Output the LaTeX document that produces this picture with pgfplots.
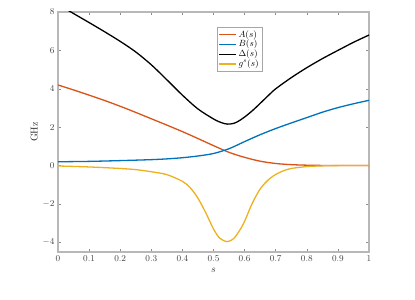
\documentclass[border=0pt]{standalone}
\usepackage{pgfplots}
\pgfplotsset{compat=1.18}
\definecolor{mA}{rgb}{0.850,0.325,0.098}
\definecolor{mB}{rgb}{0.000,0.447,0.741}
\definecolor{mG}{rgb}{0.929,0.694,0.125}
\begin{document}
\begin{tikzpicture}
\begin{axis}[
  scale only axis, width=311bp, height=240bp,
  xmin=0, xmax=1, ymin=-4.5, ymax=8,
  xtick={0,0.1,0.2,0.3,0.4,0.5,0.6,0.7,0.8,0.9,1},
  xticklabels={0,0.1,0.2,0.3,0.4,0.5,0.6,0.7,0.8,0.9,1},
  ytick={-4,-2,0,2,4,6,8},
  tick align=inside,
  major tick length=3bp,
  axis line style={black!28, line width=1.1bp},
  tick style={black!45, line width=0.5bp},
  ticklabel style={text=black!75, font=\small},
  xlabel={$s$}, ylabel={GHz},
  label style={text=black!85},
  xlabel style={yshift=0bp},
  ylabel style={yshift=-2bp},
  legend style={at={(0.511,0.9375)}, anchor=north west, draw=black!35,
    font=\small, inner sep=1.5pt, row sep=-1.5pt,
    nodes={inner sep=1.6pt}},
  legend cell align=left,
  every axis plot/.append style={line width=1.3bp},
]
\addplot[mA, smooth] coordinates {
(0,4.20) (0.05,3.94) (0.1,3.67) (0.15,3.39) (0.2,3.09) (0.25,2.77) (0.3,2.44)
(0.35,2.11) (0.4,1.77) (0.45,1.41) (0.5,1.04) (0.55,0.69) (0.6,0.43) (0.65,0.23)
(0.7,0.11) (0.75,0.05) (0.8,0.022) (0.85,0.009) (0.9,0.003) (0.95,0.001) (1,0)};
\addlegendentry{$A(s)$}
\addplot[mB, smooth] coordinates {
(0,0.20) (0.1,0.22) (0.2,0.26) (0.3,0.31) (0.35,0.35) (0.4,0.41) (0.45,0.50)
(0.5,0.63) (0.55,0.88) (0.6,1.25) (0.65,1.61) (0.7,1.93) (0.75,2.22) (0.8,2.50)
(0.85,2.78) (0.9,3.02) (0.95,3.22) (1,3.40)};
\addlegendentry{$B(s)$}
\addplot[black, smooth] coordinates {
(0,8.40) (0.05,7.92) (0.1,7.45) (0.15,6.97) (0.2,6.47) (0.25,5.92) (0.3,5.25)
(0.35,4.47) (0.4,3.67) (0.45,2.95) (0.5,2.43) (0.525,2.24) (0.545,2.16) (0.565,2.20)
(0.58,2.31) (0.6,2.53) (0.625,2.86) (0.65,3.24) (0.675,3.63) (0.7,4.00) (0.75,4.58)
(0.8,5.10) (0.85,5.57) (0.9,6.00) (0.95,6.42) (1,6.80)};
\addlegendentry{$\Delta(s)$}
\addplot[mG, smooth] coordinates {
(0,-0.02) (0.1,-0.07) (0.2,-0.15) (0.25,-0.21) (0.3,-0.32) (0.35,-0.47) (0.4,-0.82)
(0.425,-1.15) (0.45,-1.70) (0.475,-2.45) (0.5,-3.30) (0.52,-3.78) (0.544,-3.96)
(0.565,-3.80) (0.585,-3.35) (0.6,-2.90) (0.625,-1.95) (0.65,-1.22) (0.675,-0.76)
(0.7,-0.46) (0.725,-0.27) (0.75,-0.15) (0.8,-0.05) (0.85,-0.015) (0.9,0) (1,0)};
\addlegendentry{$g^{s}(s)$}
\end{axis}
\pgfresetboundingbox
\path[use as bounding box] ([shift={(-58bp,-48bp)}]current axis.south west)
  rectangle ([shift={(46bp,12bp)}]current axis.north east);
\end{tikzpicture}
\end{document}
